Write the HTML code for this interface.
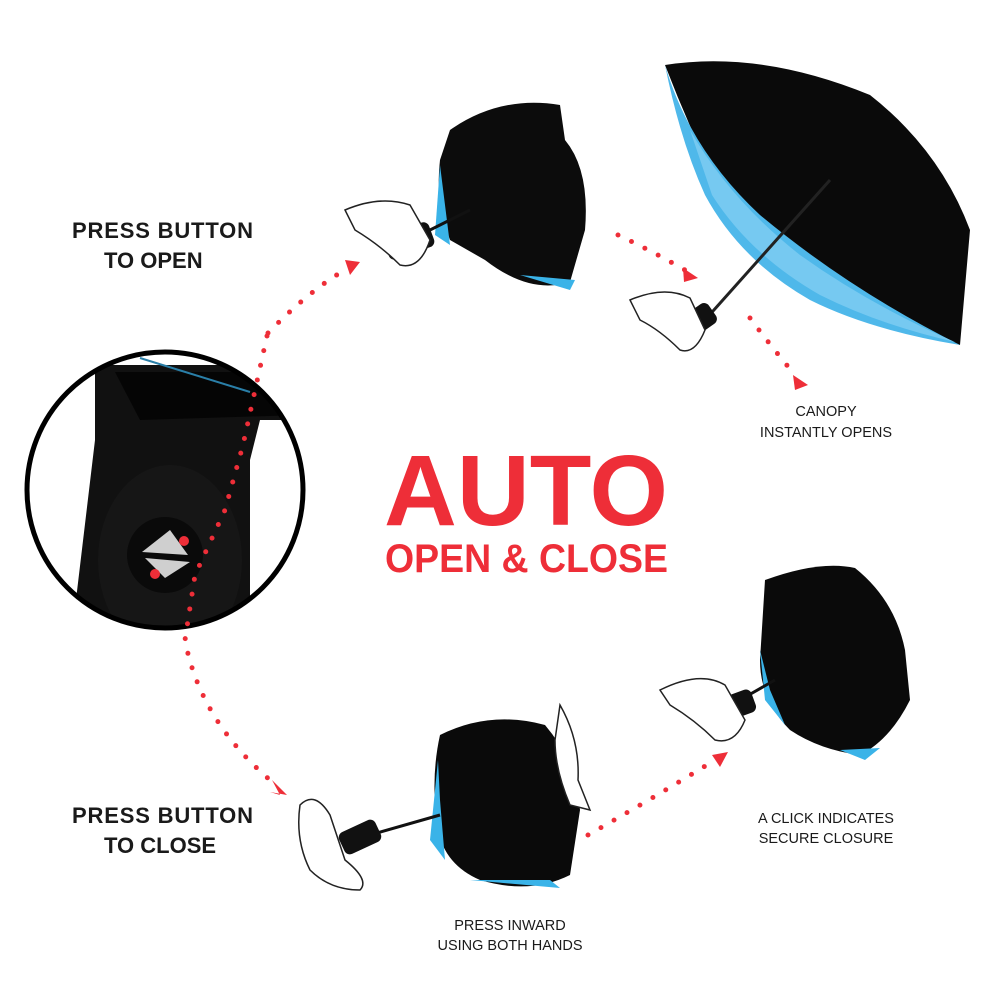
<!DOCTYPE html>
<html><head><meta charset="utf-8"><style>
html,body{margin:0;padding:0;background:#fff;width:1000px;height:1000px;overflow:hidden}
text{font-family:"Liberation Sans",sans-serif}
</style></head><body>
<svg width="1000" height="1000" viewBox="0 0 1000 1000" xmlns="http://www.w3.org/2000/svg">
<defs>
<clipPath id="cc"><circle cx="165" cy="490" r="138"/></clipPath>
</defs>
<g fill="#1a1a1a" font-size="22" font-weight="bold">
<text x="72" y="238" textLength="181">PRESS BUTTON</text>
<text x="104" y="268">TO OPEN</text>
<text x="72" y="823" textLength="181">PRESS BUTTON</text>
<text x="104" y="853">TO CLOSE</text>
</g>
<g fill="#1a1a1a" font-size="14.5" text-anchor="middle">
<text x="826" y="416">CANOPY</text>
<text x="826" y="437">INSTANTLY OPENS</text>
<text x="826" y="823">A CLICK INDICATES</text>
<text x="826" y="843">SECURE CLOSURE</text>
<text x="510" y="930">PRESS INWARD</text>
<text x="510" y="950">USING BOTH HANDS</text>
</g>
<text x="384" y="525" fill="#ee2e38" font-size="100" font-weight="bold" textLength="284" lengthAdjust="spacingAndGlyphs">AUTO</text>
<text x="385" y="572" fill="#ee2e38" font-size="40" font-weight="bold" textLength="283" lengthAdjust="spacingAndGlyphs">OPEN &amp; CLOSE</text>

<g clip-path="url(#cc)">
<rect x="20" y="340" width="300" height="300" fill="#fff"/>
<path d="M95 365 L290 365 L300 420 L260 420 L250 460 L250 650 L70 650 L95 440 Z" fill="#111"/>
<path d="M115 372 L285 372 L300 415 L140 420 Z" fill="#050505"/>
<line x1="140" y1="358" x2="250" y2="392" stroke="#2a7fa8" stroke-width="2"/>
<ellipse cx="170" cy="560" rx="72" ry="95" fill="#161616"/>
<circle cx="165" cy="555" r="38" fill="#0a0a0a"/>
<polygon points="142,552 170,530 188,555" fill="#cfcfcf"/>
<polygon points="145,558 190,562 165,578" fill="#cfcfcf"/>
</g>
<circle cx="165" cy="490" r="138" fill="none" stroke="#000" stroke-width="5"/>

<g fill="none" stroke="#ee2e38" stroke-width="5" stroke-linecap="round" stroke-dasharray="0 15">
<path d="M268 333 Q310 290 345 270"/>
<path d="M267 336 L243 445 L225 510 L195 575 L185 640 Q200 720 270 780"/>
<path d="M618 235 Q650 250 685 270"/>
<path d="M750 318 Q770 345 795 375"/>
<path d="M588 835 Q650 800 715 760"/>
</g>
<g fill="#ee2e38">
<polygon points="360,262 345,260 350,275"/>
<polygon points="698,278 683,268 684,282"/>
<polygon points="808,385 793,375 795,390"/>
<polygon points="287,795 272,780 280,795 270,792"/>
<polygon points="728,752 712,755 720,767"/>
<circle cx="184" cy="541" r="5"/><circle cx="155" cy="574" r="5"/>
</g>

<path d="M450 130 Q500 95 560 105 L565 140 Q590 170 585 230 L570 282 Q530 295 485 260 L450 240 Q435 200 440 160 Z" fill="#0c0c0c"/>
<path d="M440 165 L435 235 L450 245 Z" fill="#3ab3e8"/>
<path d="M520 275 L570 290 L575 280 Z" fill="#3ab3e8"/>
<line x1="430" y1="230" x2="470" y2="210" stroke="#111" stroke-width="3"/>
<rect x="385" y="228" width="48" height="26" rx="6" fill="#111" transform="rotate(-20 409 241)"/>
<path d="M345 210 Q380 195 410 205 L430 240 Q420 270 400 265 Q380 245 355 230 Z" fill="#fff" stroke="#222" stroke-width="1.5"/>

<path d="M665 65 Q760 50 870 95 Q940 150 970 230 L960 345 Q900 320 830 300 Q760 260 720 190 Q690 130 665 65 Z" fill="#0a0a0a"/>
<path d="M665 65 Q690 150 760 215 Q850 290 960 345 Q870 330 810 300 Q740 260 705 195 Q680 140 665 65 Z" fill="#4fb8ea"/>
<path d="M690 130 Q730 200 800 255 Q870 305 955 342 Q880 325 820 295 Q750 255 712 195 Z" fill="#7fcdf2" opacity=".8"/>
<line x1="830" y1="180" x2="705" y2="320" stroke="#222" stroke-width="3"/>
<rect x="676" y="310" width="40" height="24" rx="6" fill="#111" transform="rotate(-35 696 322)"/>
<path d="M630 300 Q665 285 690 298 L705 330 Q695 355 680 350 Q660 330 640 320 Z" fill="#fff" stroke="#222" stroke-width="1.5"/>

<path d="M765 580 Q820 560 855 568 Q895 600 905 650 L910 700 Q890 740 860 755 Q820 750 790 730 Q760 700 760 660 Z" fill="#0a0a0a"/>
<path d="M760 650 L765 700 L785 725 L770 690 Z" fill="#3ab3e8"/>
<path d="M840 750 L880 748 L865 760 Z" fill="#3ab3e8"/>
<line x1="740" y1="700" x2="775" y2="680" stroke="#111" stroke-width="3"/>
<rect x="710" y="695" width="45" height="24" rx="6" fill="#111" transform="rotate(-20 732 707)"/>
<path d="M660 690 Q700 670 725 685 L745 720 Q735 745 715 740 Q695 720 670 705 Z" fill="#fff" stroke="#222" stroke-width="1.5"/>

<path d="M440 735 Q490 710 545 725 Q575 760 580 810 L570 875 Q530 895 480 880 Q445 865 438 830 Q430 780 440 735 Z" fill="#0a0a0a"/>
<path d="M438 760 L430 840 L445 860 L440 800 Z" fill="#3ab3e8"/>
<path d="M470 880 L560 888 L550 880 Z" fill="#3ab3e8"/>
<path d="M560 705 Q580 740 578 780 L590 810 L570 805 Q555 770 555 740 Z" fill="#fff" stroke="#222" stroke-width="1.5"/>
<line x1="370" y1="835" x2="440" y2="815" stroke="#111" stroke-width="3"/>
<rect x="340" y="825" width="40" height="24" rx="6" fill="#111" transform="rotate(-25 360 837)"/>
<path d="M300 805 Q315 790 330 815 L345 860 Q370 880 360 890 Q330 890 310 870 Q295 840 300 805 Z" fill="#fff" stroke="#222" stroke-width="1.5"/>
</svg>
</body></html>
